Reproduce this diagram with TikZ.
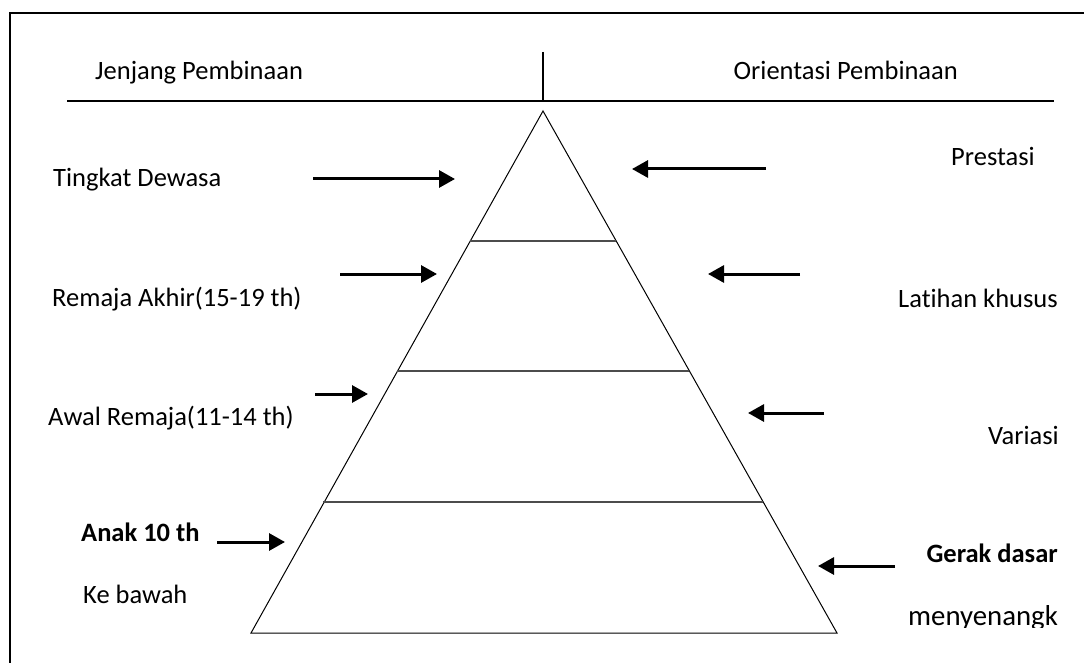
\documentclass[tikz,border=0pt]{standalone}
\usepackage{fontspec}
\setmainfont[Ligatures=NoCommon]{Carlito}
\usetikzlibrary{arrows.meta}
\begin{document}
\begin{tikzpicture}[x=1pt,y=-1pt,
  lbl/.style={inner sep=0pt,font=\fontsize{26.5}{30}\selectfont},
  lblb/.style={lbl,font=\fontsize{26.5}{30}\selectfont\bfseries},
  ptr/.style={line width=3pt,-{Triangle[length=16pt,width=17pt]}},
  tier/.style={line width=1.6pt,draw=black!70},
  edge/.style={line width=1pt}]
\useasboundingbox (0,0) rectangle (1084,663);
\clip (0,0) rectangle (1084,663);
\fill[white] (0,0) rectangle (1084,663);

% outer frame (runs off the right and bottom edges)
\draw[line width=2.5pt] (10,13) rectangle (1120,700);

% header rule and column divider
\draw[line width=1.8pt] (67,101) -- (1054,101);
\draw[line width=1.8pt] (543,52) -- (543,101);
\node[lbl,anchor=base west] (hleft) at (95,80) {Jenjang Pembinaan};
\node[lbl,anchor=base east] (hright) at (958,80) {Orientasi Pembinaan};

% pyramid with its three tier lines
\draw[edge,line join=miter] (543,111) -- (837,633) -- (251,633) -- cycle;
\draw[tier] (470,241) -- (616,241);
\draw[tier] (397,371) -- (689,371);
\draw[tier] (323,502) -- (763,502);

% age levels (left)
\node[lbl,anchor=base west] (l1) at (53,187) {Tingkat Dewasa};
\node[lbl,anchor=base west] (l2) at (52,306) {Remaja Akhir(15-19 th)};
\node[lbl,anchor=base west] (l3) at (48,425) {Awal Remaja(11-14 th)};
\node[lblb,anchor=base west] (l4) at (81,541) {Anak 10 th};
\node[lbl,anchor=base west] (l5) at (83,603) {Ke bawah};

% training orientation (right)
\node[lbl,anchor=base west] (r1) at (951,166) {Prestasi};
\node[lbl,anchor=base east] (r2) at (1058,307) {Latihan khusus};
\node[lbl,anchor=base east] (r3) at (1059,444) {Variasi};
\node[lblb,anchor=base east] (r4) at (1058,562) {Gerak dasar};
\begin{scope}
  \clip (880,560) rectangle (1084,627);
  \node[lbl,font=\fontsize{28.8}{32}\selectfont,anchor=base west] (r5) at (908,625) {menyenangk};
\end{scope}

% arrow end points
\coordinate (a1s) at (313,179); \coordinate (a1e) at (455,179);
\coordinate (a2s) at (340,274); \coordinate (a2e) at (437,274);
\coordinate (a3s) at (315,394); \coordinate (a3e) at (368,394);
\coordinate (a4s) at (217,542); \coordinate (a4e) at (285,542);
\coordinate (b1s) at (766,169); \coordinate (b1e) at (632,169);
\coordinate (b2s) at (800,274); \coordinate (b2e) at (708,274);
\coordinate (b3s) at (824,413); \coordinate (b3e) at (748,413);
\coordinate (b4s) at (895,566); \coordinate (b4e) at (818,566);

\draw[ptr] (a1s) -- (a1e);
\draw[ptr] (a2s) -- (a2e);
\draw[ptr] (a3s) -- (a3e);
\draw[ptr] (a4s) -- (a4e);
\draw[ptr] (b1s) -- (b1e);
\draw[ptr] (b2s) -- (b2e);
\draw[ptr] (b3s) -- (b3e);
\draw[ptr] (b4s) -- (b4e);
\end{tikzpicture}
\end{document}
